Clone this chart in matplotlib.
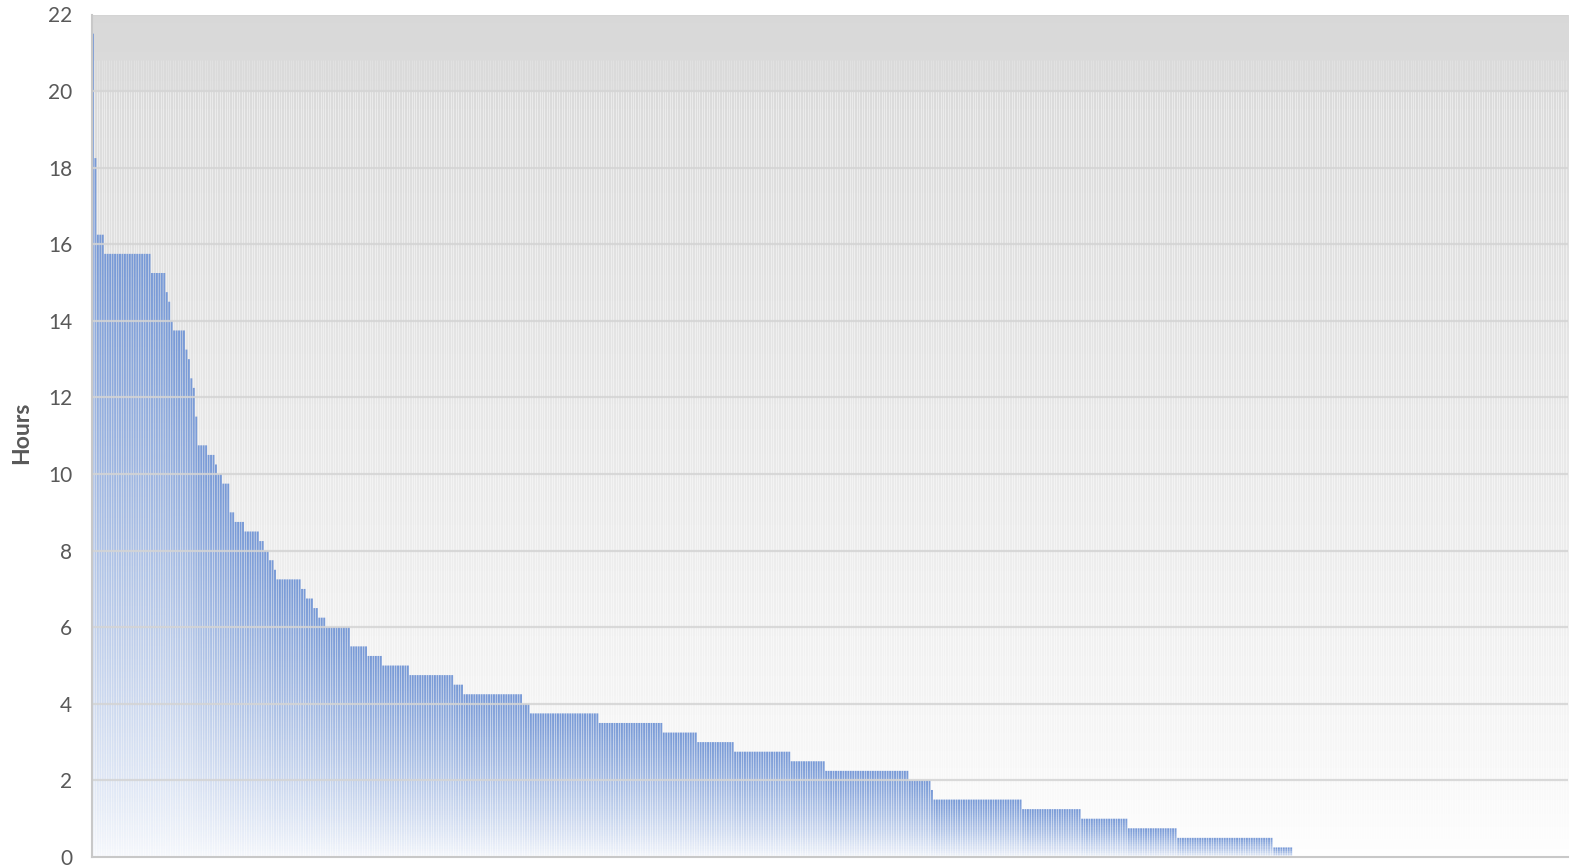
import numpy as np
import matplotlib.pyplot as plt
from matplotlib.path import Path
from matplotlib.patches import PathPatch
from matplotlib.colors import to_rgb

plt.rcParams['font.family'] = ['Lato', 'DejaVu Sans']

# plateau levels (hours) and how many bars sit on each one
levels = [21.5, 18.25, 16.25, 15.75, 15.25, 14.75, 14.5, 14.0, 13.75, 13.25,
          13.0, 12.5, 12.25, 11.5, 10.75, 10.5, 10.25, 10.0, 9.75, 9.0,
          8.75, 8.5, 8.25, 8.0, 7.75, 7.5, 7.25, 7.0, 6.75, 6.5,
          6.25, 6.0, 5.5, 5.25, 5.0, 4.75, 4.5, 4.25, 4.0, 3.75,
          3.5, 3.25, 3.0, 2.75, 2.5, 2.25, 2.0, 1.75, 1.5, 1.25,
          1.0, 0.75, 0.5, 0.25]
counts = [1, 1, 3, 19, 6, 1, 1, 1, 5, 1,
          1, 1, 1, 1, 4, 3, 1, 2, 3, 2,
          4, 6, 2, 2, 2, 1, 10, 2, 3, 2,
          3, 10, 7, 6, 11, 18, 4, 24, 3, 28,
          26, 14, 15, 23, 14, 34, 9, 1, 36, 24,
          19, 20, 39, 8]
n_slots = 600          # categories on the axis (the rest are empty)
y_ticks = list(range(0, 23, 2))

hours = np.repeat(levels, counts)
x = np.arange(len(hours))

fig = plt.figure(figsize=(15.81, 8.66), dpi=100)
ax = fig.add_axes([91.7 / 1581, (866 - 857) / 866, (1568 - 91.7) / 1581, (857 - 14.5) / 866])
ax.set_xlim(-0.5, n_slots - 0.5)
ax.set_ylim(0, 22)

# plot area background: grey at top fading to white
bg = 1.0 - 0.15 * np.linspace(0, 1, 256) ** 0.75
bg = np.dstack([bg[:, None]] * 3)
ax.imshow(bg, extent=(-0.5, n_slots - 0.5, 0, 22), origin='lower',
          aspect='auto', zorder=0, interpolation='bilinear')

# faint vertical stripes across the plot area, fading in near the top
stripe_x = np.arange(n_slots) + 0.5
ax.vlines(stripe_x, 0, 20.0, colors='white', alpha=0.45, linewidth=0.7, zorder=0.5)
ax.vlines(stripe_x, 20.0, 20.8, colors='white', alpha=0.2, linewidth=0.7, zorder=0.5)

# bars with a per-bar vertical gradient (blue at top, white at base)
bars = ax.bar(x, hours, width=0.78, color='none', edgecolor='none', zorder=1)
paths = [b.get_path().transformed(b.get_patch_transform()) for b in bars]
clip = PathPatch(Path.make_compound_path(*paths), transform=ax.transData,
                 facecolor='none', edgecolor='none')
ax.add_patch(clip)

rows = 400
yc = (np.arange(rows) + 0.5) / rows * 22
h = np.zeros(n_slots)
h[:len(hours)] = hours
t = np.clip(yc[:, None] / np.where(h > 0, h, 1)[None, :], 0, 1)
f = 0.06 + 0.94 * t ** 0.8
top = np.array(to_rgb('#789ad7'))
grad = (1 - f)[..., None] * np.ones(3) + f[..., None] * top
im = ax.imshow(grad, extent=(-0.5, n_slots - 0.5, 0, 22), origin='lower',
               aspect='auto', zorder=1, interpolation='nearest')
im.set_clip_path(clip)

# gridlines
for v in y_ticks[1:]:
    ax.axhline(v, color='#d4d4d4', linewidth=1.6, alpha=0.85, zorder=2)

ax.set_yticks(y_ticks)
ax.set_xticks([])
ax.tick_params(axis='y', length=0, pad=14, labelsize=15, labelcolor='#595959')
for s in ['top', 'right']:
    ax.spines[s].set_visible(False)
for s in ['left', 'bottom']:
    ax.spines[s].set_color('#c8c8c8')
    ax.spines[s].set_linewidth(1.5)
    ax.spines[s].set_zorder(3)

fig.text(22 / 1581, 0.5, 'Hours', rotation=90, ha='center', va='center',
         fontsize=16.5, fontweight='bold', color='#595959')

fig.savefig('out.png', dpi=100)
